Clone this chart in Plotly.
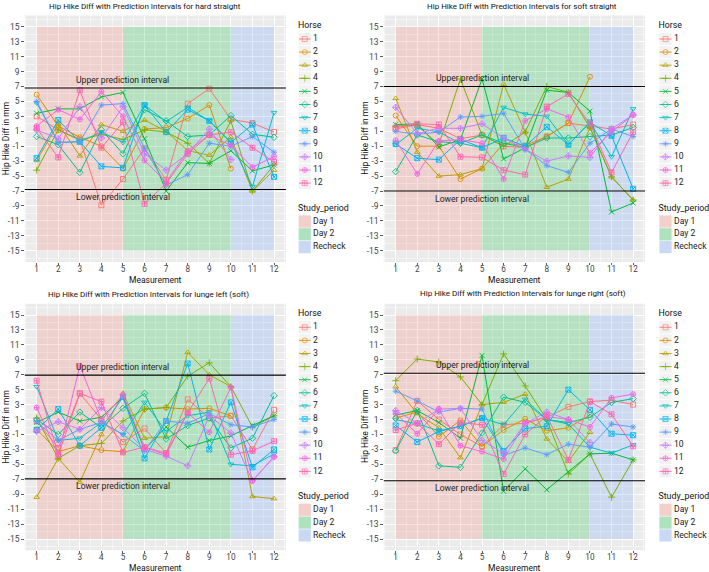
import plotly.graph_objects as go

W, H = 709, 572
FONT = "Roboto, sans-serif"

measurements = list(range(1, 13))
horses = [str(i) for i in range(1, 13)]
horse_colors = ["#F8766D", "#DE8C00", "#B79F00", "#7CAE00", "#00BA38", "#00C08B",
                "#00BFC4", "#00B4F0", "#619CFF", "#C77CFF", "#F564E3", "#FF64B0"]
horse_symbols = ["square-open", "circle-open", "triangle-up-open", "cross-thin-open",
                 "x-thin-open", "diamond-open", "triangle-down-open", "square-x-open",
                 "asterisk-open", "diamond-cross-open", "circle-cross-open", "square-cross-open"]

N = None
# values per horse (rows = horse 1..12, columns = measurement 1..12)
hard_straight = [
    [3.0, 1.2, -0.1, -8.9, -5.4, -1.3, -5.5, 4.7, 6.7, 2.6, 2.1, 0.9],
    [5.9, 1.7, 0.2, -1.0, -4.0, 1.3, 1.5, 2.7, 4.5, -4.0, N, N],
    [-2.9, 2.0, -2.3, 1.9, 1.0, 2.5, 1.0, -1.6, -2.2, 0.2, -7.0, -4.2],
    [-4.2, 1.2, -0.2, 0.6, -0.1, 1.2, 0.9, -0.6, -3.3, 2.4, -7.0, -3.5],
    [3.4, 4.0, 4.0, 5.6, 6.2, 0.0, -7.0, -3.2, -3.3, -1.6, -4.3, -3.5],
    [0.3, -0.8, -4.5, 1.2, -2.0, 3.9, 2.4, 0.3, 0.5, 3.1, 0.6, 0.2],
    [4.8, -0.5, -0.4, 0.9, -0.5, 4.5, 2.3, 4.2, 2.4, -0.5, -6.4, 3.5],
    [-2.6, 2.5, -0.4, -3.7, -3.9, 4.5, 0.9, 3.9, 2.4, -0.5, 1.9, -5.1],
    [5.0, -0.5, -0.4, 4.5, 4.7, -1.3, -6.2, -4.8, -0.6, -1.0, 0.3, -1.8],
    [1.2, 0.0, 4.3, 0.1, 4.3, -2.0, -4.2, -2.0, 1.3, -2.8, N, N],
    [1.7, 3.9, 2.6, 6.3, 3.0, -2.9, -5.8, -1.6, 0.5, -0.9, -3.8, -2.4],
    [1.4, -2.5, 6.5, -1.2, 2.2, -8.7, -6.0, -2.0, 0.5, 0.9, -1.2, -3.1],
]
soft_straight = [
    [1.3, 1.9, 1.4, 0.0, 0.5, -1.0, -1.2, 0.3, 2.1, 1.7, 1.3, 1.9],
    [3.1, -1.0, -1.0, -5.4, -4.0, -0.6, -0.9, 0.3, 2.1, 8.3, N, N],
    [5.4, -1.8, -5.0, -4.8, -4.0, 7.3, 0.9, -6.5, -5.4, 1.5, -5.1, -8.2],
    [1.7, 1.8, -0.8, 8.0, 0.5, -1.0, 0.9, 7.0, 6.2, 1.5, -5.1, -8.2],
    [1.9, 2.0, -1.1, -0.1, 8.0, -2.7, -1.2, 6.5, 6.2, 3.7, -9.8, -8.6],
    [-4.4, 0.5, -0.4, -0.6, 0.5, -0.6, -1.2, 0.1, 0.1, 0.3, 0.5, 1.5],
    [-0.8, 1.4, 0.9, -0.6, -1.2, 4.2, 3.3, 3.0, -0.8, 2.2, -2.4, 4.0],
    [-0.7, -2.6, -2.8, -0.1, -1.2, 0.1, -1.0, 1.6, -0.8, 2.2, 0.4, -6.7],
    [1.0, 0.6, 0.9, 2.9, 3.0, 3.4, -1.4, -3.6, -4.5, -0.6, 1.3, 0.3],
    [4.2, 0.7, 1.4, 1.4, 2.0, 0.1, -1.4, -3.0, -2.3, -2.5, 1.3, 3.2],
    [-0.2, -4.7, -0.3, -0.1, -0.6, -5.4, 2.4, 4.0, 2.9, -1.9, 0.9, 3.2],
    [1.5, 2.0, 1.9, -2.4, -2.5, -4.2, -4.8, 4.3, 6.0, 2.0, -4.5, 0.9],
]
lunge_left = [
    [0.8, -2.8, 4.5, 1.0, -2.0, -0.2, -3.5, 3.7, 1.2, 1.5, -3.0, 2.3],
    [-0.3, -3.3, -2.5, -3.1, -3.3, 2.4, 2.6, 2.4, 2.5, 1.5, N, N],
    [-9.4, -4.2, -7.4, -1.0, 4.5, -1.5, -1.3, 10.0, 7.0, 5.4, -9.3, -9.6],
    [1.2, -4.2, -2.5, -2.2, 0.8, 2.4, 2.6, 6.8, 8.6, 5.4, 0.0, 1.5],
    [0.6, 2.0, 0.8, 1.3, 4.0, -3.0, 0.0, -2.7, -1.8, -1.2, 0.2, 1.5],
    [1.0, -1.0, 2.0, -0.1, 2.5, 4.5, -1.6, 0.2, 1.2, -2.8, -1.5, 4.2],
    [5.4, -1.8, -1.5, 0.6, -1.0, 3.3, -0.6, 1.5, 2.0, -5.0, -5.2, -3.6],
    [-0.4, 2.4, -2.5, -0.1, 4.0, -4.2, 0.8, 8.5, -3.0, 3.3, -5.4, -3.0],
    [0.7, -1.8, -0.3, 0.6, -1.0, -3.2, 0.8, 0.5, 1.8, 0.3, 0.0, 1.0],
    [-0.6, 0.7, -0.3, 2.6, -0.1, -3.0, -3.9, -5.2, 1.5, -0.8, -7.2, -4.0],
    [2.6, -3.7, 8.2, 0.9, 4.3, -2.7, -3.7, 1.9, -0.7, 5.3, -7.2, -4.0],
    [6.2, -3.7, 4.5, 3.4, -3.4, -2.7, -3.5, 1.9, 6.5, -3.7, -3.2, -1.9],
]
lunge_right = [
    [-3.1, 3.5, 1.0, -1.0, -2.6, 0.3, 0.5, 1.3, 2.7, 3.4, 3.6, 3.0],
    [1.2, 2.0, -1.3, 0.9, -2.6, -0.4, 1.1, -0.5, -0.1, 1.6, N, N],
    [5.4, 1.8, -0.1, -4.1, 3.0, 3.3, 4.4, -1.6, -4.6, -0.7, N, N],
    [6.2, 9.1, 8.7, 6.7, 3.0, 9.8, 5.5, 1.0, -6.3, -3.6, -9.4, -4.4],
    [1.6, 2.2, 0.6, -1.5, 9.6, -8.6, -5.6, -8.4, -6.0, -3.6, -3.5, -4.4],
    [-3.2, 2.2, -5.2, -5.4, -0.8, 4.0, 3.3, 1.0, 0.6, 1.3, 3.3, 3.8],
    [1.0, 0.4, -0.5, 0.1, 1.2, 0.3, 3.7, 1.0, 0.4, -2.7, -3.5, -2.4],
    [0.2, -2.0, -0.6, 0.1, 1.2, -3.2, -0.2, 0.1, 5.0, 2.3, -0.9, -1.1],
    [4.8, 3.5, 2.0, 2.5, 2.4, -3.8, -2.8, -3.7, -2.3, -2.7, 0.4, 0.0],
    [2.2, 0.5, 2.4, 2.5, -1.8, -3.5, 0.5, 2.0, 1.0, -2.1, N, N],
    [1.8, -0.9, 2.4, -2.5, -3.3, -4.3, 0.5, 1.4, 1.0, 0.0, 3.9, 4.4],
    [-0.4, 0.5, -2.3, 0.6, 0.3, -6.3, -1.0, 1.5, -4.4, 3.4, 1.7, -2.6],
]

conditions = ["hard straight", "soft straight", "lunge left (soft)", "lunge right (soft)"]
condition_data = [hard_straight, soft_straight, lunge_left, lunge_right]
pi_upper = [6.8, 7.0, 6.95, 7.2]
pi_lower = [-6.8, -7.0, -6.95, -7.2]

period_names = ["Day 1", "Day 2", "Recheck"]
period_start = [1, 5, 10]
period_end = [5, 10, 12]
period_colors = ["248,118,109", "0,186,56", "97,156,255"]
rect_ymin, rect_ymax = -15, 15

y_ticks = list(range(-15, 16, 2))

# ---- layout geometry (pixels) ----
col_x = [(24.8, 285.9), (383.8, 645.0)]
row_y = [(15.5, 262.0), (303.8, 550.2)]
title_pos = [(144.5, 6.5), (521.5, 6.5), (148.5, 294.3), (523.0, 293.3)]
ytitle_x = [5.5, 365.0]
legend_key_x = [(298.5, 311.0), (659.0, 672.0)]

fig = go.Figure()
layout = dict(width=W, height=H, autosize=False,
              margin=dict(l=0, r=0, t=0, b=0),
              paper_bgcolor="white", plot_bgcolor="rgba(0,0,0,0)",
              showlegend=False, font=dict(family=FONT, color="#333333"))
shapes, annotations = [], []

for k, (cond, data) in enumerate(zip(conditions, condition_data)):
    r, c = divmod(k, 2)
    xs = "" if k == 0 else str(k + 1)
    xa, ya = "x" + xs, "y" + xs
    x0p, x1p = col_x[c]
    y0p, y1p = row_y[r]
    layout["xaxis" + xs] = dict(
        domain=[x0p / W, x1p / W], anchor=ya, range=[0.45, 12.55],
        tick0=1, dtick=1, showgrid=True, gridcolor="white", gridwidth=1,
        minor=dict(tick0=0.5, dtick=0.5, showgrid=True, gridcolor="white", gridwidth=0.5),
        ticks="outside", ticklen=2, tickcolor="#333333", tickwidth=0.8,
        ticklabelstandoff=-3,
        tickfont=dict(size=8.2, color="#444444", family=FONT),
        zeroline=False, showline=False, fixedrange=True)
    layout["yaxis" + xs] = dict(
        domain=[1 - y1p / H, 1 - y0p / H], anchor=xa, range=[-16.5, 16.5],
        tickmode="array", tickvals=y_ticks, ticktext=[str(v) for v in y_ticks],
        showgrid=True, gridcolor="white", gridwidth=1,
        minor=dict(tick0=0, dtick=1, showgrid=True, gridcolor="white", gridwidth=0.5),
        ticks="outside", ticklen=2.5, tickcolor="#333333", tickwidth=0.8,
        tickfont=dict(size=8.5, color="#444444", family=FONT),
        zeroline=False, showline=False, fixedrange=True)
    shapes.append(dict(type="rect", xref=xa + " domain", yref=ya + " domain",
                       x0=0, x1=1, y0=0, y1=1, fillcolor="#EBEBEB",
                       line=dict(width=0), layer="below"))
    # study period rectangles
    for name, s, e, col in zip(period_names, period_start, period_end, period_colors):
        fig.add_trace(go.Scatter(
            x=[s, e, e, s, s], y=[rect_ymin, rect_ymin, rect_ymax, rect_ymax, rect_ymin],
            xaxis=xa, yaxis=ya, mode="lines", fill="toself",
            fillcolor=f"rgba({col},0.22)", line=dict(width=0), hoverinfo="skip"))
    # horse lines
    for h, vals in enumerate(data):
        fig.add_trace(go.Scatter(
            x=measurements, y=vals, xaxis=xa, yaxis=ya, mode="lines+markers",
            name=horses[h], connectgaps=False,
            line=dict(color=horse_colors[h], width=1),
            marker=dict(symbol=horse_symbols[h], size=5, color=horse_colors[h],
                        line=dict(width=0.9))))
    # prediction interval lines
    for val in (pi_upper[k], pi_lower[k]):
        shapes.append(dict(type="line", xref=xa + " domain", yref=ya,
                           x0=0, x1=1, y0=val, y1=val,
                           line=dict(color="black", width=1.1), layer="above"))
    annotations.append(dict(x=5, y=pi_upper[k] + 1.1, xref=xa, yref=ya,
                            text="Upper prediction interval", showarrow=False,
                            font=dict(size=8.6, color="#222222", family=FONT)))
    annotations.append(dict(x=5, y=pi_lower[k] - 1.0, xref=xa, yref=ya,
                            text="Lower prediction interval", showarrow=False,
                            font=dict(size=8.6, color="#222222", family=FONT)))
    # titles
    tx, ty = title_pos[k]
    annotations.append(dict(x=tx / W, y=1 - ty / H, xref="paper", yref="paper",
                            text=f"Hip Hike Diff with Prediction Intervals for {cond}",
                            showarrow=False, xanchor="center", yanchor="middle",
                            font=dict(size=8.0, color="#111111", family=FONT)))
    annotations.append(dict(x=(x0p + x1p) / 2 / W, y=1 - (y1p + 17.8) / H,
                            xref="paper", yref="paper", text="Measurement",
                            showarrow=False, xanchor="center", yanchor="middle",
                            borderpad=0,
                            font=dict(size=8.5, color="#111111", family=FONT)))
    annotations.append(dict(x=ytitle_x[c] / W, y=1 - (y0p + y1p) / 2 / H,
                            xref="paper", yref="paper", text="Hip Hike Diff in mm",
                            textangle=-90, showarrow=False, xanchor="center",
                            yanchor="middle",
                            font=dict(size=8.5, color="#111111", family=FONT)))

# ---- legends drawn on a full-figure overlay axis in pixel units ----
layout["xaxis5"] = dict(domain=[0, 1], range=[0, W], visible=False, anchor="y5",
                        fixedrange=True)
layout["yaxis5"] = dict(domain=[0, 1], range=[H, 0], visible=False, anchor="x5",
                        fixedrange=True)
for k in range(4):
    r, c = divmod(k, 2)
    off = row_y[r][0] - row_y[0][0]
    kx0, kx1 = legend_key_x[c]
    kc = (kx0 + kx1) / 2
    horse_y = [off + 39 + 13.1 * i for i in range(len(horses))]
    period_y = [off + 221.5 + 12.8 * j for j in range(len(period_names))]
    # key backgrounds
    fig.add_trace(go.Scatter(
        x=[kc] * (len(horse_y) + len(period_y)), y=horse_y + period_y,
        xaxis="x5", yaxis="y5", mode="markers", hoverinfo="skip",
        marker=dict(symbol="square", size=12.2, color="#F2F2F2", line=dict(width=0))))
    for h in range(len(horses)):
        fig.add_trace(go.Scatter(
            x=[kx0 + 0.5, kc, kx1 - 0.5], y=[horse_y[h]] * 3, xaxis="x5", yaxis="y5",
            mode="lines+markers", hoverinfo="skip",
            line=dict(color=horse_colors[h], width=0.9),
            marker=dict(symbol=horse_symbols[h], size=[0, 5, 0], color=horse_colors[h],
                        line=dict(width=0.9))))
    fig.add_trace(go.Scatter(
        x=[kc] * len(period_y), y=period_y, xaxis="x5", yaxis="y5", mode="markers",
        hoverinfo="skip",
        marker=dict(symbol="square", size=12.2,
                    color=[f"rgba({col},0.28)" for col in period_colors],
                    line=dict(width=0))))
    fig.add_trace(go.Scatter(
        x=[kx1 + 2] * (len(horses) + len(period_names)),
        y=horse_y + period_y, xaxis="x5", yaxis="y5", mode="text",
        text=horses + period_names, textposition="middle right", hoverinfo="skip",
        textfont=dict(size=8.6, color="#222222", family=FONT)))
    fig.add_trace(go.Scatter(
        x=[kx0 - 0.5, kx0 - 0.5], y=[off + 26, off + 209], xaxis="x5", yaxis="y5",
        mode="text", text=["Horse", "Study_period"], textposition="middle right",
        hoverinfo="skip", textfont=dict(size=8.8, color="#111111", family=FONT)))

layout["shapes"] = shapes
layout["annotations"] = annotations
fig.update_layout(**layout)
fig.write_html(
    "out.html",
    config={"displayModeBar": False, "staticPlot": True},
    post_script="document.body.style.margin='0';document.body.style.padding='0';"
                "document.body.style.overflow='hidden';")
